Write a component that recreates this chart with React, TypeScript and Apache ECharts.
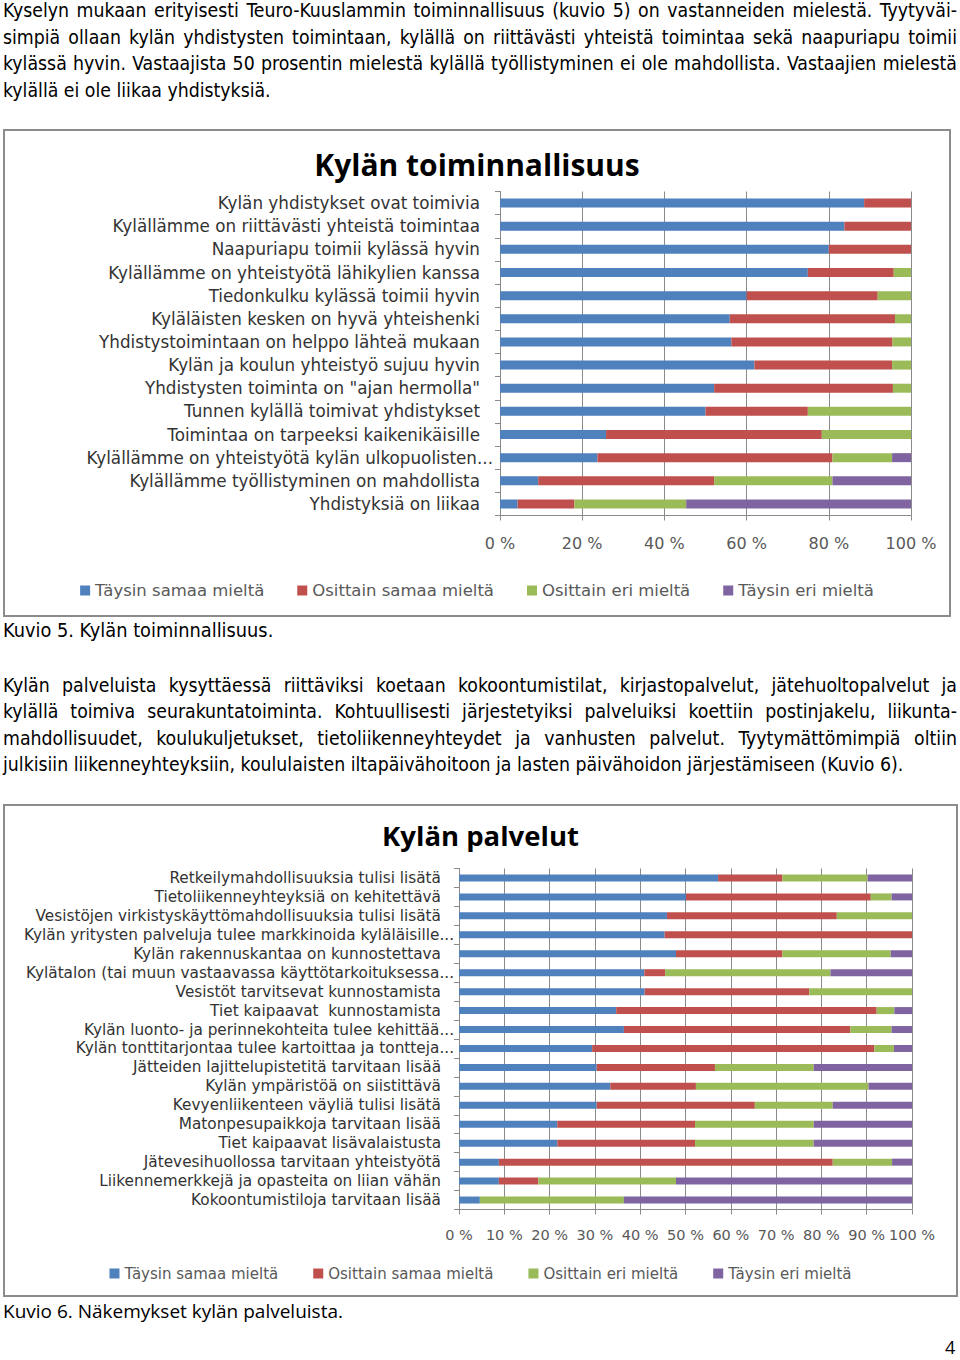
import React, { useEffect, useRef } from "react";
import * as echarts from "echarts";

const seriesNames = ["Täysin samaa mieltä", "Osittain samaa mieltä", "Osittain eri mieltä", "Täysin eri mieltä"];
const seriesColors = ["#4F81BD", "#C0504D", "#9BBB59", "#8064A2"];

// Kuvio 5
const toimTitle = "Kylän toiminnallisuus";
const toimCategories = [
  "Kylän yhdistykset ovat toimivia",
  "Kylällämme on riittävästi yhteistä toimintaa",
  "Naapuriapu toimii kylässä hyvin",
  "Kylällämme on yhteistyötä lähikylien kanssa",
  "Tiedonkulku kylässä toimii hyvin",
  "Kyläläisten kesken on hyvä yhteishenki",
  "Yhdistystoimintaan on helppo lähteä mukaan",
  "Kylän ja koulun yhteistyö sujuu hyvin",
  "Yhdistysten toiminta on \"ajan hermolla\"",
  "Tunnen kylällä toimivat yhdistykset",
  "Toimintaa on tarpeeksi kaikenikäisille",
  "Kylällämme on yhteistyötä kylän ulkopuolisten...",
  "Kylällämme työllistyminen on mahdollista",
  "Yhdistyksiä on liikaa",
];
const toimTaysinSamaa = [88.6, 83.8, 80.0, 74.9, 60.0, 55.9, 56.3, 61.9, 52.1, 50.0, 25.8, 23.7, 9.3, 4.3];
const toimOsittainSamaa = [11.4, 16.2, 20.0, 20.9, 31.9, 40.2, 39.2, 33.5, 43.5, 24.9, 52.5, 57.2, 42.8, 13.8];
const toimOsittainEri = [0, 0, 0, 4.2, 8.1, 3.9, 4.5, 4.6, 4.4, 25.1, 21.7, 14.5, 28.8, 27.2];
const toimTaysinEri = [0, 0, 0, 0, 0, 0, 0, 0, 0, 0, 0, 4.6, 19.1, 54.7];
const toimTicks = [0, 20, 40, 60, 80, 100];

// Kuvio 6
const palvTitle = "Kylän palvelut";
const palvCategories = [
  "Retkeilymahdollisuuksia tulisi lisätä",
  "Tietoliikenneyhteyksiä on kehitettävä",
  "Vesistöjen virkistyskäyttömahdollisuuksia tulisi lisätä",
  "Kylän yritysten palveluja tulee markkinoida kyläläisille...",
  "Kylän rakennuskantaa on kunnostettava",
  "Kylätalon (tai muun vastaavassa käyttötarkoituksessa...",
  "Vesistöt tarvitsevat kunnostamista",
  "Tiet kaipaavat  kunnostamista",
  "Kylän luonto- ja perinnekohteita tulee kehittää...",
  "Kylän tonttitarjontaa tulee kartoittaa ja tontteja...",
  "Jätteiden lajittelupistetitä tarvitaan lisää",
  "Kylän ympäristöä on siistittävä",
  "Kevyenliikenteen väyliä tulisi lisätä",
  "Matonpesupaikkoja tarvitaan lisää",
  "Tiet kaipaavat lisävalaistusta",
  "Jätevesihuollossa tarvitaan yhteistyötä",
  "Liikennemerkkejä ja opasteita on liian vähän",
  "Kokoontumistiloja tarvitaan lisää",
];
const palvTaysinSamaa = [57.2, 50.1, 45.9, 45.4, 47.9, 40.9, 41.0, 34.7, 36.4, 29.4, 30.4, 33.4, 30.4, 21.7, 21.7, 8.8, 8.8, 4.6];
const palvOsittainSamaa = [14.2, 40.8, 37.5, 54.6, 23.5, 4.6, 36.3, 57.5, 50.0, 62.3, 26.1, 18.9, 34.9, 30.4, 30.4, 73.7, 8.7, 0];
const palvOsittainEri = [18.8, 4.6, 16.6, 0, 23.9, 36.5, 22.7, 3.9, 9.1, 4.3, 21.8, 38.1, 17.2, 26.2, 26.2, 13.1, 30.4, 31.8];
const palvTaysinEri = [9.8, 4.5, 0, 0, 4.7, 18.0, 0, 3.9, 4.5, 4.0, 21.7, 9.6, 17.5, 21.7, 21.7, 4.4, 52.1, 63.6];
const palvTicks = [0, 10, 20, 30, 40, 50, 60, 70, 80, 90, 100];

const para1 = [
  "Kyselyn mukaan erityisesti Teuro-Kuuslammin toiminnallisuus (kuvio 5) on vastanneiden mielestä. Tyytyväi-",
  "simpiä ollaan kylän yhdistysten toimintaan, kylällä on riittävästi yhteistä toimintaa sekä naapuriapu toimii",
  "kylässä hyvin. Vastaajista 50 prosentin mielestä kylällä työllistyminen ei ole mahdollista. Vastaajien mielestä",
  "kylällä ei ole liikaa yhdistyksiä.",
];
const para2 = [
  "Kylän palveluista kysyttäessä riittäviksi koetaan kokoontumistilat, kirjastopalvelut, jätehuoltopalvelut ja",
  "kylällä toimiva seurakuntatoiminta. Kohtuullisesti järjestetyiksi palveluiksi koettiin postinjakelu, liikunta-",
  "mahdollisuudet, koulukuljetukset, tietoliikenneyhteydet ja vanhusten palvelut. Tyytymättömimpiä oltiin",
  "julkisiin liikenneyhteyksiin, koululaisten iltapäivähoitoon ja lasten päivähoidon järjestämiseen (Kuvio 6).",
];

const TITLE_FONT = "'Open Sans', 'Noto Sans', sans-serif";
const CHART_FONT = "'DejaVu Sans', 'Open Sans', sans-serif";
const BODY_FONT = "'Liberation Sans Narrow', 'DejaVu Sans Condensed', 'Roboto', sans-serif";

type Cfg = {
  title: string;
  titleSize: number;
  titleTop: number;
  cats: string[];
  values: number[][];
  ticks: number[];
  grid: { left: number; right: number; top: number; height: number };
  barWidth: number;
  labelSize: number;
  labelSpacer: number;
  labelMargin: number;
  tickLabelSize: number;
  tickLabelMargin: number;
  legendTop: number;
  legendSize: number;
  legendGap: number;
};

function buildOption(c: Cfg) {
  const axisColor = "#8a8a8a";
  const step = c.ticks[1] - c.ticks[0];
  return {
    animation: false,
    backgroundColor: "#ffffff",
    title: {
      text: c.title,
      left: "center",
      top: c.titleTop,
      textStyle: { fontFamily: TITLE_FONT, fontWeight: "bold", fontSize: c.titleSize, color: "#000000" },
    },
    legend: {
      data: seriesNames,
      top: c.legendTop,
      left: "center",
      icon: "rect",
      itemWidth: 10,
      itemHeight: 10,
      itemGap: c.legendGap,
      textStyle: { fontFamily: CHART_FONT, fontSize: c.legendSize, color: "#595959" },
    },
    grid: { left: c.grid.left, right: c.grid.right, top: c.grid.top, height: c.grid.height },
    xAxis: {
      type: "value",
      min: c.ticks[0],
      max: c.ticks[c.ticks.length - 1],
      interval: step,
      axisLine: { show: true, lineStyle: { color: axisColor, width: 1 } },
      axisTick: { show: true, length: 5, lineStyle: { color: axisColor } },
      splitLine: { show: true, lineStyle: { color: axisColor, width: 1 } },
      axisLabel: {
        formatter: (v: number) => `${v} %`,
        margin: c.tickLabelMargin,
        fontFamily: CHART_FONT,
        fontSize: c.tickLabelSize,
        color: "#595959",
      },
    },
    yAxis: {
      type: "category",
      inverse: true,
      data: c.cats,
      axisLine: { show: true, lineStyle: { color: axisColor, width: 1 } },
      axisTick: { show: true, length: 5, lineStyle: { color: axisColor } },
      axisLabel: {
        margin: c.labelMargin,
        formatter: (v: string) => (v.endsWith("...") ? `{t|${v}}` : `{t|${v}}{s|}`),
        rich: {
          t: { fontFamily: CHART_FONT, fontSize: c.labelSize, color: "#333333" },
          s: { width: c.labelSpacer },
        },
      },
    },
    series: seriesNames.map((n, i) => ({
      type: "bar",
      name: n,
      stack: "total",
      barWidth: c.barWidth,
      data: c.values[i],
      itemStyle: { color: seriesColors[i] },
    })),
  };
}

function Chart({ cfg, left, top, width, height }: { cfg: Cfg; left: number; top: number; width: number; height: number }) {
  const ref = useRef<HTMLDivElement>(null);
  useEffect(() => {
    if (!ref.current) return;
    const chart = echarts.init(ref.current, null, { renderer: "svg" });
    chart.setOption(buildOption(cfg));
    return () => chart.dispose();
  }, []);
  return (
    <div
      style={{
        position: "absolute",
        left,
        top,
        width: width - 4,
        height: height - 4,
        border: "2px solid #8c8c8c",
        background: "#fff",
      }}
    >
      <div ref={ref} style={{ width: width - 4, height: height - 4 }} />
    </div>
  );
}

function Para({ lines, top }: { lines: string[]; top: number }) {
  return (
    <div style={{ position: "absolute", left: 3, top, width: 954, fontFamily: BODY_FONT, fontSize: 19.3, lineHeight: "21px", color: "#000" }}>
      {lines.map((l, i) => (
        <div
          key={i}
          style={{
            whiteSpace: "nowrap",
            textAlign: i < lines.length - 1 ? "justify" : "left",
            textAlignLast: i < lines.length - 1 ? "justify" : "left",
            height: 26.5,
          }}
        >
          {l}
        </div>
      ))}
    </div>
  );
}

const cfg1: Cfg = {
  title: toimTitle,
  titleSize: 30,
  titleTop: 13,
  cats: toimCategories,
  values: [toimTaysinSamaa, toimOsittainSamaa, toimOsittainEri, toimTaysinEri],
  ticks: toimTicks,
  grid: { left: 495, right: 38, top: 60.5, height: 324 },
  barWidth: 9,
  labelSize: 16.8,
  labelSpacer: 13,
  labelMargin: 7,
  tickLabelSize: 16,
  tickLabelMargin: 20,
  legendTop: 446,
  legendSize: 16.5,
  legendGap: 33,
};

const cfg2: Cfg = {
  title: palvTitle,
  titleSize: 27.5,
  titleTop: 10,
  cats: palvCategories,
  values: [palvTaysinSamaa, palvOsittainSamaa, palvOsittainEri, palvTaysinEri],
  ticks: palvTicks,
  grid: { left: 454, right: 44, top: 62.5, height: 341 },
  barWidth: 7,
  labelSize: 15.3,
  labelSpacer: 13,
  labelMargin: 5,
  tickLabelSize: 14.5,
  tickLabelMargin: 18,
  legendTop: 455,
  legendSize: 15,
  legendGap: 35,
};

export default function App() {
  return (
    <div style={{ position: "absolute", left: 0, top: 0, width: 960, height: 1360, background: "#fff", overflow: "hidden" }}>
      <Para lines={para1} top={0} />
      <Chart cfg={cfg1} left={3} top={129} width={948} height={488} />
      <div style={{ position: "absolute", left: 3, top: 618, fontFamily: BODY_FONT, fontSize: 19.8, lineHeight: "26px" }}>
        Kuvio 5. Kylän toiminnallisuus.
      </div>
      <Para lines={para2} top={674.5} />
      <Chart cfg={cfg2} left={3} top={804} width={955} height={493} />
      <div style={{ position: "absolute", left: 3, top: 1298, fontFamily: TITLE_FONT, fontSize: 19, lineHeight: "26px" }}>
        Kuvio 6. Näkemykset kylän palveluista.
      </div>
      <div style={{ position: "absolute", left: 945, top: 1334, fontFamily: TITLE_FONT, fontSize: 18, lineHeight: "26px" }}>4</div>
    </div>
  );
}
